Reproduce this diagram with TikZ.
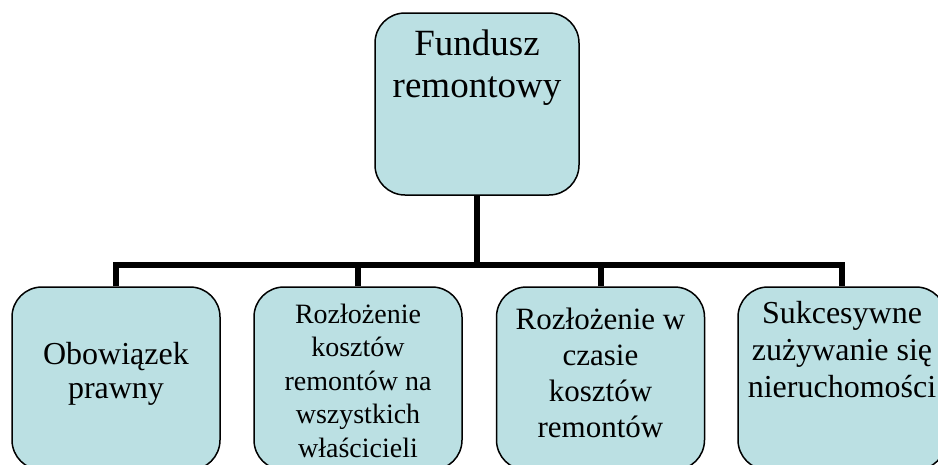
\documentclass[tikz,border=0pt]{standalone}
\usepackage{fontspec}
\setmainfont{Liberation Serif}
\definecolor{boxfill}{RGB}{187,224,227}
\begin{document}
\begin{tikzpicture}[x=1pt,y=-1pt,
  boxnode/.style={draw=black,line width=1.5pt,fill=boxfill,rounded corners=30pt,
    minimum width=208pt,minimum height=183pt,inner sep=0pt},
  conn/.style={draw=black,line width=6pt,line join=miter},
  lbl/.style={align=center,inner sep=0pt,anchor=base}]
\useasboundingbox (0,0) rectangle (938,464);
\clip (0,0) rectangle (938,464);
\node[boxnode,minimum width=204pt,minimum height=182pt] (top) at (477,104) {};
\node[boxnode] (b1) at (116,378.5) {};
\node[boxnode] (b2) at (358,378.5) {};
\node[boxnode] (b3) at (600.5,378.5) {};
\node[boxnode] (b4) at (842,378.5) {};
\coordinate (bar) at (477,265);
\draw[conn] (top.south) -- (bar);
\draw[conn] (b1.north) |- (bar) -| (b4.north);
\draw[conn] (b2.north) -- (b2.north |- bar);
\draw[conn] (b3.north) -- (b3.north |- bar);
\node[lbl,font=\fontsize{37}{42}\selectfont] (ttop) at (477,97) {Fundusz\\remontowy};
\node[lbl,font=\fontsize{32}{34}\selectfont] (t1) at (116,398) {Obowiązek\\prawny};
\node[lbl,font=\fontsize{28}{33.5}\selectfont] (t2) at (358,457) {Rozłożenie\\kosztów\\remontów na\\wszystkich\\właścicieli};
\node[lbl,font=\fontsize{31}{36}\selectfont] (t3) at (600.5,437) {Rozłożenie w\\czasie\\kosztów\\remontów};
\node[lbl,font=\fontsize{32}{37}\selectfont] (t4) at (842,397) {Sukcesywne\\zużywanie się\\nieruchomości};
\end{tikzpicture}
\end{document}
